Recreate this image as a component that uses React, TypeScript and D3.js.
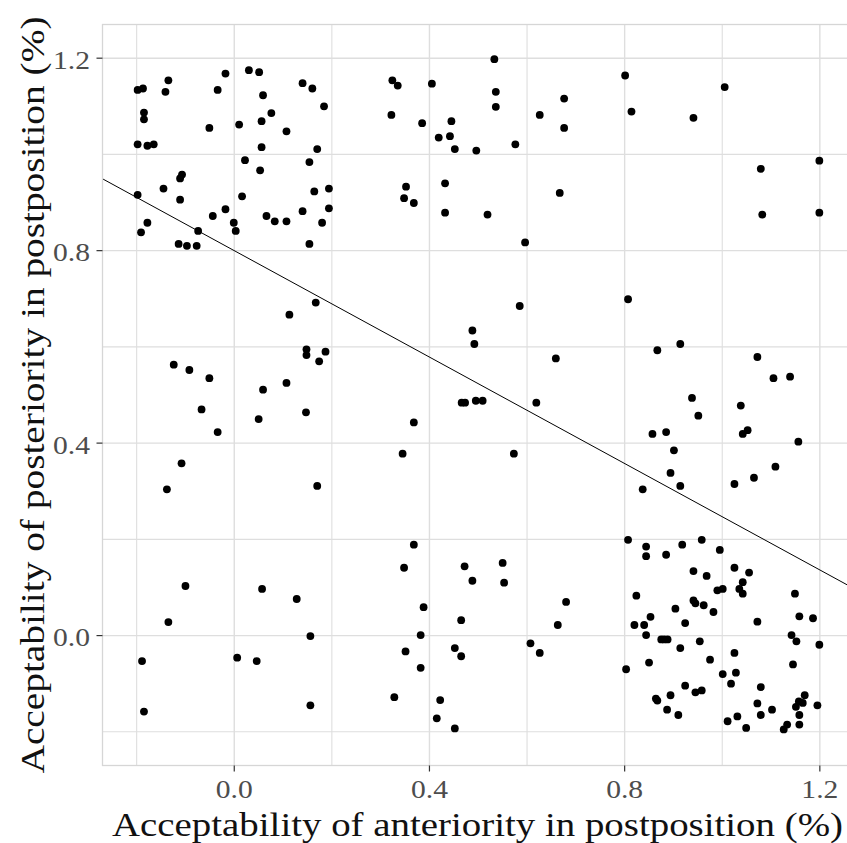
import React from 'react';
import * as d3 from 'd3';

// Scatter points: [anteriority, posteriority]
const points: [number, number][] = [
  [-0.198, 1.134], [-0.187, 1.137], [-0.135, 1.154], [-0.141, 1.130], [-0.185, 1.087], [-0.185, 1.073],
  [-0.198, 1.021], [-0.178, 1.018], [-0.165, 1.021], [-0.051, 1.055], [-0.034, 1.134], [-0.018, 1.168],
  [0.030, 1.175], [0.051, 1.171], [0.059, 1.123], [0.076, 1.086], [0.056, 1.069], [0.010, 1.062],
  [0.107, 1.048], [0.056, 1.015], [0.022, 0.988], [0.053, 0.967], [0.140, 1.148], [0.160, 1.137],
  [0.184, 1.100], [0.170, 1.011], [0.154, 0.984], [0.164, 0.923], [0.194, 0.929], [0.194, 0.888],
  [0.180, 0.858], [0.140, 0.882], [0.154, 0.814], [0.107, 0.861], [0.083, 0.861], [0.066, 0.872],
  [0.016, 0.913], [-0.018, 0.886], [-0.044, 0.872], [-0.001, 0.858], [0.003, 0.841], [-0.074, 0.841],
  [-0.077, 0.810], [-0.097, 0.810], [-0.114, 0.814], [-0.111, 0.950], [-0.107, 0.958], [-0.145, 0.929],
  [-0.111, 0.906], [-0.198, 0.916], [-0.178, 0.858], [-0.191, 0.838],
  [0.324, 1.154], [0.335, 1.143], [0.405, 1.147], [0.533, 1.198], [0.536, 1.130], [0.536, 1.099],
  [0.676, 1.116], [0.626, 1.082], [0.676, 1.055], [0.322, 1.082], [0.385, 1.065], [0.445, 1.069],
  [0.419, 1.035], [0.442, 1.038], [0.452, 1.011], [0.496, 1.008], [0.576, 1.021], [0.352, 0.933],
  [0.348, 0.909], [0.368, 0.899], [0.432, 0.940], [0.432, 0.879], [0.519, 0.875], [0.667, 0.920],
  [0.596, 0.817],
  [0.801, 1.164], [0.814, 1.089], [0.941, 1.076], [1.005, 1.140], [1.079, 0.970], [1.199, 0.987],
  [1.082, 0.875], [1.199, 0.879],
  [0.167, 0.692], [0.113, 0.667], [0.148, 0.595], [0.148, 0.583], [0.187, 0.590], [0.174, 0.570],
  [0.107, 0.525], [0.059, 0.511], [0.147, 0.464], [0.050, 0.450], [0.170, 0.311], [-0.124, 0.563],
  [-0.092, 0.552], [-0.051, 0.535], [-0.067, 0.470], [-0.034, 0.423], [-0.108, 0.358], [-0.138, 0.304],
  [0.585, 0.685], [0.488, 0.634], [0.492, 0.606], [0.659, 0.576], [0.466, 0.484], [0.473, 0.484],
  [0.495, 0.488], [0.509, 0.488], [0.619, 0.484], [0.368, 0.443], [0.345, 0.378], [0.573, 0.378],
  [0.807, 0.699], [0.867, 0.593], [0.914, 0.606], [1.072, 0.579], [1.105, 0.535], [1.139, 0.538],
  [0.938, 0.494], [0.951, 0.457], [1.038, 0.478], [0.857, 0.419], [0.885, 0.423], [1.042, 0.419],
  [1.052, 0.427], [1.156, 0.403], [0.901, 0.385], [1.109, 0.351], [0.894, 0.338], [0.914, 0.311],
  [0.837, 0.304], [1.025, 0.315], [1.065, 0.328],
  [-0.100, 0.103], [-0.135, 0.028], [-0.189, -0.053], [-0.185, -0.158], [0.057, 0.097], [0.128, 0.076],
  [0.156, -0.001], [0.006, -0.046], [0.046, -0.053], [0.156, -0.145],
  [0.368, 0.189], [0.348, 0.141], [0.472, 0.144], [0.488, 0.114], [0.550, 0.151], [0.553, 0.110],
  [0.388, 0.059], [0.465, 0.032], [0.382, 0.001], [0.351, -0.033], [0.452, -0.026], [0.465, -0.043],
  [0.382, -0.067], [0.328, -0.128], [0.422, -0.134], [0.415, -0.172], [0.452, -0.193], [0.680, 0.070],
  [0.663, 0.022], [0.607, -0.016], [0.626, -0.036],
  [0.807, 0.199], [0.844, 0.185], [0.844, 0.165], [0.885, 0.168], [0.918, 0.189], [0.958, 0.199],
  [0.995, 0.178], [0.941, 0.134], [0.968, 0.124], [1.025, 0.141], [1.055, 0.131], [1.042, 0.111],
  [1.035, 0.097], [1.042, 0.087], [0.990, 0.094], [1.001, 0.097], [0.824, 0.083], [0.941, 0.073],
  [0.945, 0.067], [0.962, 0.063], [0.982, 0.049], [0.904, 0.056], [0.853, 0.039], [0.820, 0.022],
  [0.840, 0.022], [0.924, 0.026], [0.844, 0.001], [0.875, -0.008], [0.881, -0.008], [0.888, -0.008],
  [0.954, -0.012], [0.914, -0.026], [1.025, -0.036], [0.975, -0.050], [0.850, -0.056], [0.803, -0.070],
  [1.001, -0.080], [1.028, -0.077], [1.018, -0.100], [1.079, -0.107], [0.924, -0.104], [0.945, -0.118],
  [0.958, -0.114], [0.894, -0.124], [0.864, -0.131], [0.867, -0.135], [0.887, -0.154], [0.910, -0.165],
  [1.011, -0.178], [1.031, -0.168], [1.049, -0.192], [1.072, -0.141], [1.079, -0.165], [1.102, -0.154],
  [1.126, -0.195], [1.133, -0.185], [1.149, 0.087], [1.158, 0.040], [1.186, 0.036], [1.142, 0.001],
  [1.152, -0.012], [1.199, -0.019], [1.145, -0.060], [1.169, -0.124], [1.165, -0.140], [1.157, -0.137],
  [1.151, -0.148], [1.158, -0.165], [1.158, -0.185], [1.195, -0.145], [1.072, 0.029],
];

const xMajor = [0, 0.4, 0.8, 1.2];
const xMinor = [-0.2, 0.2, 0.6, 1.0];
const yMajor = [0, 0.4, 0.8, 1.2];
const yMinor = [-0.2, 0.2, 0.6, 1.0];
const fitIntercept = 0.8;
const fitSlope = -0.553;
const xTitle = 'Acceptability of anteriority in postposition (%)';
const yTitle = 'Acceptability of posteriority in postposition (%)';

const textStyle = { fontFamily: "'Liberation Serif', 'Times New Roman', Times, serif" };

export default function App() {
  const W = 847;
  const H = 843;
  const domain: [number, number] = [-0.27, 1.27];
  const x = d3.scaleLinear().domain(domain).range([102.5, 854]);
  const y = d3.scaleLinear().domain(domain).range([765.5, 24.5]);
  const fmt = d3.format('.1f');
  const [x0, x1] = x.range();
  const [yb, yt] = y.range();
  const line = d3
    .line<number>()
    .x((d) => x(d))
    .y((d) => y(fitIntercept + fitSlope * d));

  const gridColor = '#DEDEDE';
  return (
    <svg
      width={W}
      height={H}
      style={{ position: 'absolute', left: 0, top: 0, background: '#fff' }}
    >
      <defs>
        <clipPath id="panel">
          <rect x={x0} y={yt} width={x1 - x0} height={yb - yt} />
        </clipPath>
      </defs>
      <rect x={0} y={0} width={W} height={H} fill="#fff" />
      <g>
        {xMinor.map((v) => (
          <line key={'xm' + v} x1={x(v)} x2={x(v)} y1={yt} y2={yb} stroke={gridColor} strokeWidth={1.1} />
        ))}
        {yMinor.map((v) => (
          <line key={'ym' + v} x1={x0} x2={x1} y1={y(v)} y2={y(v)} stroke={gridColor} strokeWidth={1.1} />
        ))}
        {xMajor.map((v) => (
          <line key={'xM' + v} x1={x(v)} x2={x(v)} y1={yt} y2={yb} stroke={gridColor} strokeWidth={1.4} />
        ))}
        {yMajor.map((v) => (
          <line key={'yM' + v} x1={x0} x2={x1} y1={y(v)} y2={y(v)} stroke={gridColor} strokeWidth={1.4} />
        ))}
      </g>
      <g clipPath="url(#panel)">
        {points.map((p, i) => (
          <circle key={i} cx={x(p[0])} cy={y(p[1])} r={3.9} fill="#000" />
        ))}
        <path d={line(domain) || ''} fill="none" stroke="#000" strokeWidth={1} />
      </g>
      <rect x={x0} y={yt} width={x1 - x0} height={yb - yt} fill="none" stroke="#D6D6D6" strokeWidth={1.3} />
      {xMajor.map((v) => (
        <g key={'xt' + v}>
          <line x1={x(v)} x2={x(v)} y1={yb} y2={yb + 6} stroke="#333" strokeWidth={1.2} />
          <text
            x={x(v)}
            y={798}
            textAnchor="middle"
            fontSize={25}
            fill="#4D4D4D"
            style={textStyle}
            textLength={37}
            lengthAdjust="spacingAndGlyphs"
          >
            {fmt(v)}
          </text>
        </g>
      ))}
      {yMajor.map((v) => (
        <g key={'yt' + v}>
          <line x1={x0 - 6} x2={x0} y1={y(v)} y2={y(v)} stroke="#333" strokeWidth={1.2} />
          <text
            x={90}
            y={y(v) + 10.5}
            textAnchor="end"
            fontSize={25}
            fill="#4D4D4D"
            style={textStyle}
            textLength={37}
            lengthAdjust="spacingAndGlyphs"
          >
            {fmt(v)}
          </text>
        </g>
      ))}
      <text
        x={477.5}
        y={836}
        textAnchor="middle"
        fontSize={34}
        fill="#111"
        style={textStyle}
        textLength={731}
        lengthAdjust="spacingAndGlyphs"
      >
        {xTitle}
      </text>
      <text
        transform={`translate(44, ${(yt + yb) / 2}) rotate(-90)`}
        textAnchor="middle"
        fontSize={34}
        fill="#111"
        style={textStyle}
        textLength={757}
        lengthAdjust="spacingAndGlyphs"
      >
        {yTitle}
      </text>
    </svg>
  );
}
